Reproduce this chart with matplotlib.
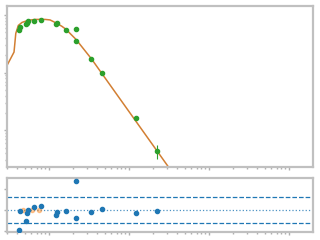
import numpy as np
import matplotlib
matplotlib.use('Agg')
from matplotlib import pyplot as plt

# data points (top panel)
x_data = [0.422, 0.438, 0.520, 0.533, 0.546, 0.655, 0.801, 1.23, 1.27, 1.645, 2.19, 2.19, 3.38, 4.64, 12.33, 22.6]
y_data = [0.542, 0.628, 0.689, 0.74, 0.777, 0.798, 0.832, 0.689, 0.717, 0.557, 0.580, 0.360, 0.175, 0.100, 0.0161, 0.00432]
y_err = [0.01, 0.01, 0.01, 0.01, 0.01, 0.01, 0.01, 0.01, 0.01, 0.01, 0.01, 0.01, 0.004, 0.002, 0.0005, 0.0012]

# model curve
x_model = [0.2985, 0.365, 0.384, 0.413, 0.460, 0.546, 0.668, 0.891, 1.029, 1.223, 1.454, 1.632, 1.83, 2.175, 3.38, 77.2]
y_model = [0.134, 0.228, 0.481, 0.662, 0.746, 0.809, 0.841, 0.841, 0.824, 0.731, 0.636, 0.565, 0.481, 0.378, 0.175, 0.000394]

# residuals (bottom panel)
resid = [-0.95, -0.05, -0.52, -0.13, 0.01, 0.14, 0.2, -0.22, -0.08, -0.03, 1.35, -0.38, -0.1, 0.05, -0.14, -0.03]
x_masked = [0.477, 0.618, 0.757]
resid_masked = [0.0, 0.0, 0.0]
band = 0.6

fig = plt.figure(figsize=(3.2, 2.4), dpi=100)
gs = fig.add_gridspec(2, 1, height_ratios=[161, 54], hspace=0.102,
                      left=0.022, right=0.978, top=0.973, bottom=0.033)
ax1 = fig.add_subplot(gs[0])
ax2 = fig.add_subplot(gs[1], sharex=ax1)

ax1.plot(x_model, y_model, color='#d27f33', lw=1.1, zorder=2)
ax1.errorbar(x_data, y_data, yerr=y_err, fmt='o', color='C2', ms=3, elinewidth=0.8, capsize=0, zorder=3)
ax1.set_xscale('log')
ax1.set_yscale('log')
ax1.set_xlim(0.2985, 1995)
ax1.set_ylim(0.00229, 1.41)

ax2.axhline(band, color='C0', ls='--', lw=0.9)
ax2.axhline(-band, color='C0', ls='--', lw=0.9)
ax2.axhline(0, color='C0', ls=':', lw=0.9, alpha=0.8)
ax2.plot(x_masked, resid_masked, 'o', color='C1', ms=3, alpha=0.4, zorder=3)
ax2.plot(x_data, resid, 'o', color='C0', ms=3, zorder=4)
ax2.set_ylim(-1.03, 1.5)
ax2.set_yticks([-1, 0, 1])

for ax in (ax1, ax2):
    for s in ax.spines.values():
        s.set_color('#c0c0c0')
        s.set_linewidth(1.6)
    ax.tick_params(which='both', colors='#b0b0b0', labelleft=False, labelbottom=False,
                   length=2, width=1)
    ax.tick_params(which='minor', length=1.5)

fig.savefig('out.png', dpi=100)
